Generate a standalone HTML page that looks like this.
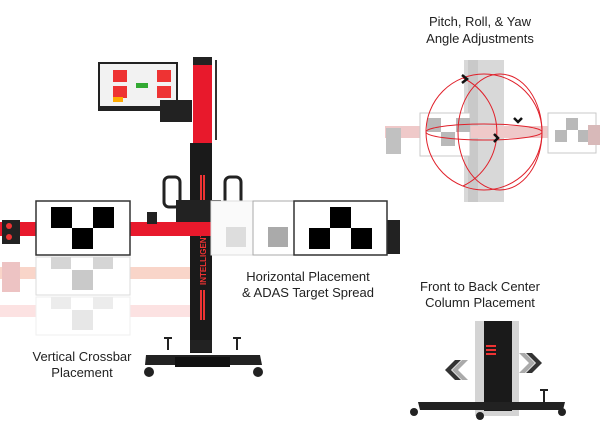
<!DOCTYPE html>
<html><head><style>
body{margin:0;background:#fff;width:600px;height:438px;overflow:hidden;font-family:"Liberation Sans",sans-serif}
svg{position:absolute;left:0;top:0}
</style></head><body>
<svg width="600" height="438" viewBox="0 0 600 438">
<!-- ghost reflections -->
<g opacity="0.35">
<rect x="0" y="267" width="190" height="12" fill="#e86"/>
<rect x="36" y="257" width="94" height="38" fill="#fff" stroke="#999"/>
<rect x="51" y="257" width="20" height="12" fill="#888"/><rect x="93" y="257" width="20" height="12" fill="#888"/><rect x="72" y="270" width="21" height="20" fill="#666"/>
<rect x="2" y="262" width="18" height="30" fill="#c55"/>
</g>
<g opacity="0.15">
<rect x="0" y="305" width="190" height="12" fill="#e44"/>
<rect x="36" y="297" width="94" height="38" fill="#fff" stroke="#999"/>
<rect x="51" y="297" width="20" height="12" fill="#888"/><rect x="93" y="297" width="20" height="12" fill="#888"/><rect x="72" y="310" width="21" height="20" fill="#666"/>
</g>
<!-- monitor -->
<rect x="98" y="62" width="80" height="49" fill="#222"/>
<rect x="100" y="64" width="76" height="42" fill="#f2f2f2"/>
<rect x="113" y="70" width="14" height="12" fill="#e33"/><rect x="157" y="70" width="14" height="12" fill="#e33"/>
<rect x="113" y="86" width="14" height="12" fill="#e33"/><rect x="157" y="86" width="14" height="12" fill="#e33"/>
<rect x="136" y="83" width="12" height="5" fill="#3a3"/>
<rect x="113" y="97" width="10" height="5" fill="#fa0"/>
<rect x="160" y="100" width="32" height="22" fill="#222"/>
<!-- column -->
<rect x="193" y="57" width="19" height="88" fill="#e8192c"/>
<rect x="193" y="57" width="19" height="8" fill="#222"/>
<rect x="190" y="143" width="22" height="210" fill="#1a1a1a"/>
<rect x="215" y="60" width="2" height="80" fill="#333"/>
<rect x="200" y="175" width="2" height="30" fill="#e33"/><rect x="203" y="175" width="2" height="30" fill="#e33"/>
<rect x="200" y="290" width="2" height="30" fill="#e33"/><rect x="203" y="290" width="2" height="30" fill="#e33"/>
<text x="0" y="0" transform="translate(206,285) rotate(-90)" font-size="8" fill="#e33" font-weight="bold">INTELLIGENT AC</text>
<!-- handles -->
<rect x="164" y="177" width="16" height="30" rx="5" fill="none" stroke="#222" stroke-width="3"/>
<rect x="225" y="177" width="16" height="30" rx="5" fill="none" stroke="#222" stroke-width="3"/>
<rect x="176" y="200" width="45" height="30" fill="#222"/>
<!-- crossbar -->
<rect x="0" y="222" width="400" height="14" fill="#e8192c"/>
<rect x="2" y="220" width="18" height="24" fill="#222"/><circle cx="9" cy="226" r="3" fill="#e33"/><circle cx="9" cy="237" r="3" fill="#e33"/>
<rect x="387" y="220" width="13" height="34" fill="#222"/>
<rect x="147" y="212" width="10" height="12" fill="#222"/>
<!-- left target -->
<rect x="36" y="201" width="94" height="54" fill="#fff" stroke="#333" stroke-width="1.5"/>
<rect x="51" y="207" width="21" height="21" fill="#000"/><rect x="93" y="207" width="21" height="21" fill="#000"/><rect x="72" y="228" width="21" height="21" fill="#000"/>
<!-- faded targets -->
<rect x="211" y="201" width="42" height="54" fill="#fafafa" stroke="#ddd"/>
<rect x="226" y="227" width="20" height="20" fill="#ddd"/>
<rect x="253" y="201" width="42" height="54" fill="#fff" stroke="#aaa"/>
<rect x="268" y="227" width="20" height="20" fill="#aaa"/>
<!-- right target -->
<rect x="294" y="201" width="93" height="54" fill="#fff" stroke="#333" stroke-width="1.5"/>
<rect x="330" y="207" width="21" height="21" fill="#000"/><rect x="309" y="228" width="21" height="21" fill="#000"/><rect x="351" y="228" width="21" height="21" fill="#000"/>
<!-- base -->
<rect x="190" y="340" width="22" height="12" fill="#222"/>
<path d="M146 355 L260 355 L262 365 L145 365Z" fill="#222"/>
<rect x="175" y="357" width="55" height="10" fill="#111"/>
<circle cx="149" cy="372" r="5" fill="#222"/><circle cx="258" cy="372" r="5" fill="#222"/>
<rect x="167" y="338" width="2" height="12" fill="#222"/><rect x="164" y="337" width="8" height="2" fill="#222"/>
<rect x="236" y="338" width="2" height="12" fill="#222"/><rect x="233" y="337" width="8" height="2" fill="#222"/>
<!-- texts -->
<text x="308" y="281" font-size="13" text-anchor="middle" fill="#222">Horizontal Placement</text>
<text x="308" y="297" font-size="13" text-anchor="middle" fill="#222">&amp; ADAS Target Spread</text>
<text x="82" y="361" font-size="13" text-anchor="middle" fill="#222">Vertical Crossbar</text>
<text x="82" y="377" font-size="13" text-anchor="middle" fill="#222">Placement</text>
<text x="480" y="26" font-size="13" text-anchor="middle" fill="#222">Pitch, Roll, &amp; Yaw</text>
<text x="480" y="43" font-size="13" text-anchor="middle" fill="#222">Angle Adjustments</text>
<text x="480" y="291" font-size="13" text-anchor="middle" fill="#222">Front to Back Center</text>
<text x="480" y="307" font-size="13" text-anchor="middle" fill="#222">Column Placement</text>
<!-- top right faded machine -->
<g opacity="0.45">
<rect x="464" y="60" width="40" height="142" fill="#aaa"/>
<rect x="468" y="60" width="10" height="142" fill="#888"/>
<rect x="385" y="126" width="200" height="12" fill="#d88"/>
<rect x="420" y="113" width="50" height="43" fill="#fff" stroke="#888"/>
<rect x="427" y="118" width="14" height="14" fill="#666"/><rect x="456" y="118" width="14" height="14" fill="#666"/><rect x="441" y="132" width="14" height="14" fill="#666"/>
<rect x="548" y="113" width="48" height="40" fill="#fff" stroke="#888"/>
<rect x="566" y="118" width="12" height="12" fill="#666"/><rect x="555" y="130" width="12" height="12" fill="#666"/><rect x="578" y="130" width="12" height="12" fill="#666"/>
<rect x="386" y="128" width="15" height="26" fill="#777"/>
<rect x="588" y="125" width="12" height="20" fill="#a66"/>
</g>
<g fill="none" stroke="#e0202a" stroke-width="1">
<circle cx="484" cy="132" r="58"/>
<ellipse cx="484" cy="132" rx="58" ry="8"/>
<ellipse cx="500" cy="132" rx="42" ry="58"/>
<path d="M463 78 A60 60 0 0 1 463 186"/>
</g>
<path d="M462 75 l5 4 -5 4" stroke="#111" stroke-width="2.5" fill="none"/>
<path d="M514 118 l4 4 4 -4" stroke="#111" stroke-width="2.5" fill="none"/>
<path d="M494 134 l4 4 -4 4" stroke="#111" stroke-width="2.5" fill="none"/>
<!-- bottom right column -->
<rect x="475" y="321" width="44" height="95" fill="#aaa" opacity="0.5"/>
<rect x="484" y="321" width="28" height="90" fill="#1a1a1a"/>
<rect x="486" y="345" width="10" height="2" fill="#e33"/><rect x="486" y="349" width="10" height="2" fill="#e33"/><rect x="486" y="353" width="10" height="2" fill="#e33"/>
<path d="M418 402 L565 402 L563 410 L420 410Z" fill="#222"/>
<circle cx="414" cy="412" r="4" fill="#222"/><circle cx="562" cy="412" r="4" fill="#222"/><circle cx="480" cy="416" r="4" fill="#222"/>
<rect x="543" y="390" width="2" height="14" fill="#222"/><rect x="540" y="389" width="8" height="2" fill="#222"/>
<path d="M462 360 l-10 10 10 10 h6 l-10 -10 10 -10z" fill="#aaa"/>
<path d="M455 360 l-10 10 10 10 h6 l-10 -10 10 -10z" fill="#333"/>
<path d="M525 353 l10 10 -10 10 h-6 l10 -10 -10 -10z" fill="#aaa"/>
<path d="M532 353 l10 10 -10 10 h-6 l10 -10 -10 -10z" fill="#333"/>
</svg>
</body></html>
